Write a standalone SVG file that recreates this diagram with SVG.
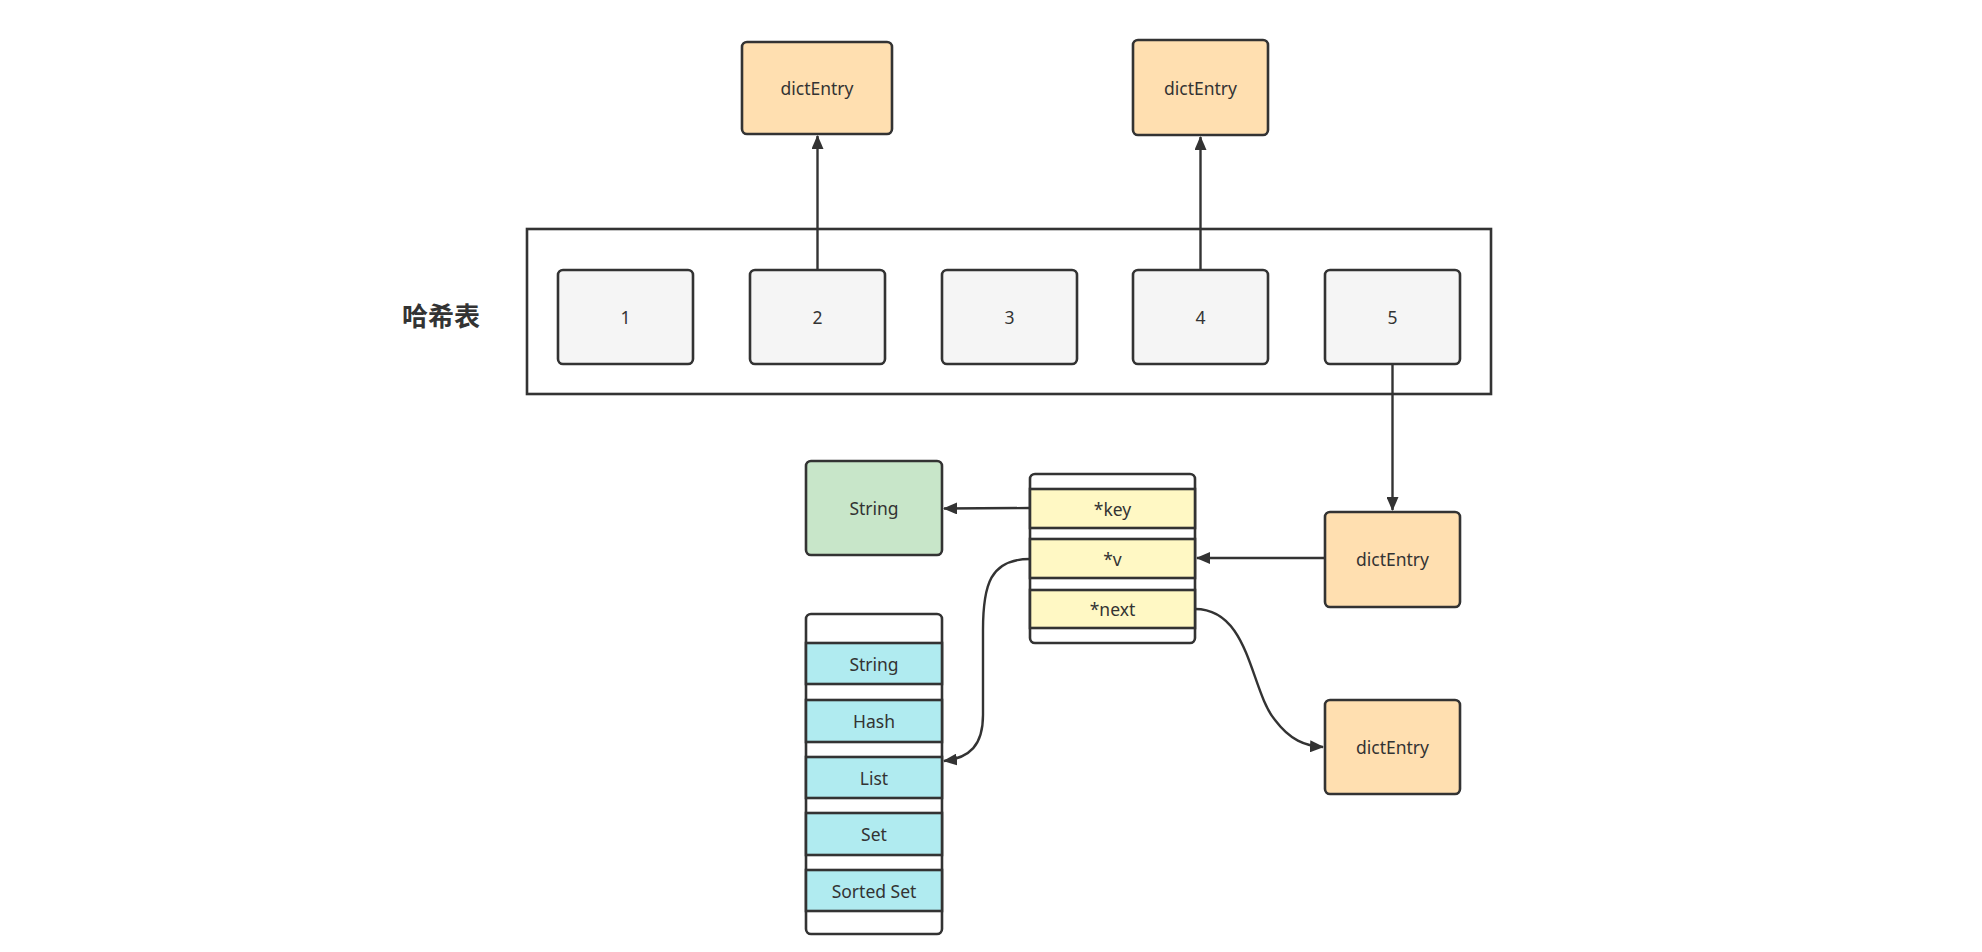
<svg xmlns="http://www.w3.org/2000/svg" width="1982" height="952" viewBox="0 0 1982 952">
<style>
.b{stroke:#333;stroke-width:2.6}
.bucket{fill:#f5f5f5}
.entry{fill:#ffdfb0}
.green{fill:#c8e6c9}
.cyan{fill:#b0ebf0}
.yel{fill:#fff8c4}
.white{fill:#fff}
text{font-family:"Noto Sans","Noto Sans CJK SC",sans-serif;font-size:17.5px;fill:#333;text-anchor:middle;dominant-baseline:central}
.title{font-size:26px;font-weight:bold;font-family:"Noto Sans CJK SC","Noto Sans",sans-serif}
.edge{fill:none;stroke:#333;stroke-width:2.4}
</style>
<defs>
<marker id="arr" viewBox="0 0 14 12" refX="13" refY="6" markerWidth="14" markerHeight="12" markerUnits="userSpaceOnUse" orient="auto">
<path d="M0,0 L14,6 L0,12 Z" fill="#333"/>
</marker>
</defs>
<g id="title"><text class="title" x="441" y="314">哈希表</text></g>
<g id="hashtable"><rect class="b white" x="527" y="229" width="964" height="165"/></g>
<g id="bucket1"><rect class="b bucket" x="558" y="270" width="135" height="94" rx="5"/><text x="625.5" y="317">1</text></g>
<g id="bucket2"><rect class="b bucket" x="750" y="270" width="135" height="94" rx="5"/><text x="817.5" y="317">2</text></g>
<g id="bucket3"><rect class="b bucket" x="942" y="270" width="135" height="94" rx="5"/><text x="1009.5" y="317">3</text></g>
<g id="bucket4"><rect class="b bucket" x="1133" y="270" width="135" height="94" rx="5"/><text x="1200.5" y="317">4</text></g>
<g id="bucket5"><rect class="b bucket" x="1325" y="270" width="135" height="94" rx="5"/><text x="1392.5" y="317">5</text></g>
<g id="entryTop1"><rect class="b entry" x="742" y="42" width="150" height="92" rx="5"/><text x="817" y="88">dictEntry</text></g>
<g id="entryTop2"><rect class="b entry" x="1133" y="40" width="135" height="95" rx="5"/><text x="1200.5" y="88">dictEntry</text></g>
<g id="entryMid"><rect class="b entry" x="1325" y="512" width="135" height="95" rx="5"/><text x="1392.5" y="559">dictEntry</text></g>
<g id="entryBottom"><rect class="b entry" x="1325" y="700" width="135" height="94" rx="5"/><text x="1392.5" y="747">dictEntry</text></g>
<g id="stringKey"><rect class="b green" x="806" y="461" width="136" height="94" rx="5"/><text x="874" y="508">String</text></g>
<g id="dictStruct">
<rect class="b white" x="1030" y="474" width="165" height="169" rx="5"/>
<rect class="b yel" x="1030" y="489" width="165" height="39"/><text x="1112.5" y="508.5">*key</text>
<rect class="b yel" x="1030" y="539" width="165" height="39"/><text x="1112.5" y="558.5">*v</text>
<rect class="b yel" x="1030" y="590" width="165" height="38"/><text x="1112.5" y="609">*next</text>
</g>
<g id="typeStack">
<rect class="b white" x="806" y="614" width="136" height="320" rx="5"/>
<rect class="b cyan" x="806" y="643" width="136" height="41"/><text x="874" y="663.5">String</text>
<rect class="b cyan" x="806" y="700" width="136" height="42"/><text x="874" y="721">Hash</text>
<rect class="b cyan" x="806" y="757" width="136" height="41"/><text x="874" y="777.5">List</text>
<rect class="b cyan" x="806" y="813" width="136" height="42"/><text x="874" y="834">Set</text>
<rect class="b cyan" x="806" y="870" width="136" height="41"/><text x="874" y="890.5">Sorted Set</text>
</g>
<g id="connectors">
<path class="edge" d="M817.5,270 L817.5,136" marker-end="url(#arr)"/>
<path class="edge" d="M1200.5,270 L1200.5,137" marker-end="url(#arr)"/>
<path class="edge" d="M1392.5,364 L1392.5,510" marker-end="url(#arr)"/>
<path class="edge" d="M1030,508 L944,508.5" marker-end="url(#arr)"/>
<path class="edge" d="M1325,558 L1197,558" marker-end="url(#arr)"/>
<path class="edge" d="M1030,559 C990,559 983,585 983,630 L983,715 C983,745 970,758 944,761" marker-end="url(#arr)"/>
<path class="edge" d="M1195,609 C1250,609 1250,690 1275,720 C1290,740 1305,746 1323,747" marker-end="url(#arr)"/>
</g>
</svg>
